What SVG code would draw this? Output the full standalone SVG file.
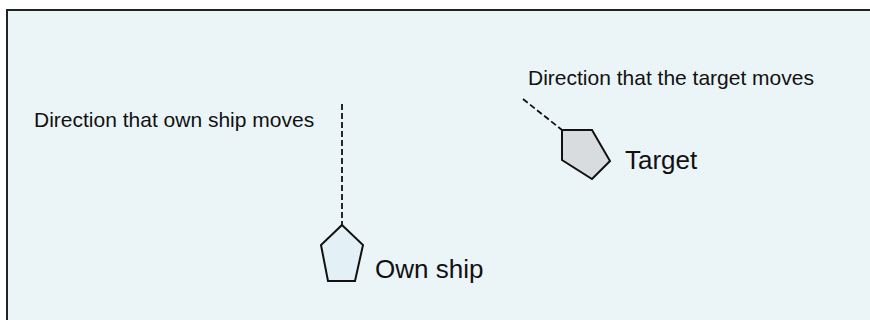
<svg xmlns="http://www.w3.org/2000/svg" width="870" height="320" viewBox="0 0 870 320">
<style>
.small{font-family:"Liberation Sans",Arial,sans-serif;font-size:21px;fill:#111}
.big{font-family:"Liberation Sans",Arial,sans-serif;font-size:26px;fill:#111}
.dash{stroke:#111;stroke-width:1.8;stroke-dasharray:6,3;fill:none}
.ship{stroke:#111;stroke-width:2;stroke-linejoin:miter}
</style>
<rect x="7" y="10" width="880" height="330" fill="#ebf5f8" stroke="#222" stroke-width="2"/>
<g id="connectors">
<line class="dash" x1="342" y1="104" x2="342" y2="225"/>
<line class="dash" x1="523" y1="99" x2="562" y2="130"/>
</g>
<g id="own-ship">
<polygon class="ship" fill="#e3f1f6" points="342,225 363,245 355,281 328,281 321,245"/>
<text class="big" x="375" y="278">Own ship</text>
</g>
<g id="target">
<polygon class="ship" fill="#d9dcde" points="562,130 592,130 610,161 592,179 562,160"/>
<text class="big" x="625" y="169">Target</text>
</g>
<g id="label-own">
<text class="small" x="34" y="127">Direction that own ship moves</text>
</g>
<g id="label-target">
<text class="small" x="528" y="85">Direction that the target moves</text>
</g>
</svg>
